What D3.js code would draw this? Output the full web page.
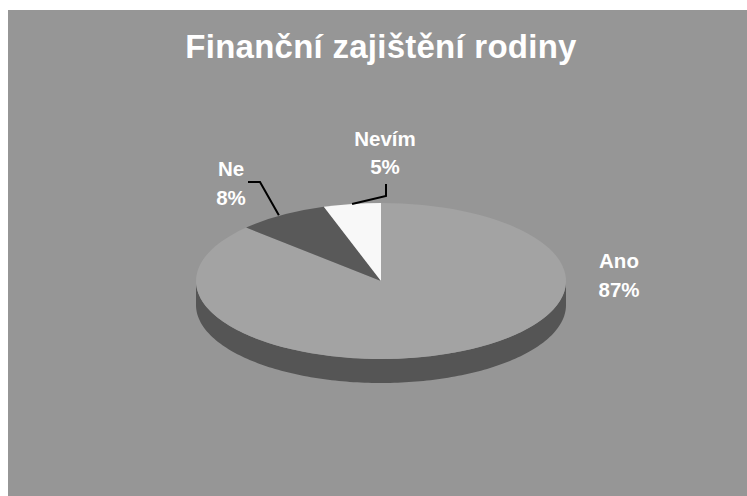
<!DOCTYPE html>
<html lang="cs">
<head>
<meta charset="UTF-8">
<title>Finanční zajištění rodiny</title>
<script src="https://d3js.org/d3.v7.min.js"></script>
<style>
    html, body { margin: 0; padding: 0; background: #fff; }
    svg { display: block; }
    text { font-family: "Liberation Sans", Arial, sans-serif; font-weight: bold; fill: #fff; text-anchor: middle; }
</style>
</head>
<body>
<script>
    var title = "Finanční zajištění rodiny";
    var categories = ["Ano", "Ne", "Nevím"];
    var shares = [87, 8, 5];
    var sliceColors = ["#a3a3a3", "#595959", "#f8f8f8"];

    var w = 747, h = 496;
    var cx = 381, cy = 281, rx = 185, ry = 78, depth = 24;

    var svg = d3.select("body").append("svg")
        .attr("width", w)
        .attr("height", h);

    svg.append("rect")
        .attr("x", 8).attr("y", 10)
        .attr("width", w - 8).attr("height", h - 10)
        .attr("fill", "#969696");

    svg.append("text")
        .attr("x", 381).attr("y", 58)
        .attr("font-size", 33)
        .attr("letter-spacing", 0.25)
        .text(title);

    // slices go clockwise from 12 o'clock
    var pie = d3.pie().sort(null);
    var arcs = pie(shares);

    // point on the tilted ellipse for an angle measured from the top
    function ex(a) { return cx + rx * Math.sin(a); }
    function ey(a) { return cy - ry * Math.cos(a); }

    // visible side wall, lower half of the ellipse
    var side = d3.area()
        .x(ex)
        .y0(ey)
        .y1(a => ey(a) + depth);

    svg.append("path")
        .attr("d", side(d3.range(Math.PI / 2, 3 * Math.PI / 2 + 0.01, 0.02)))
        .attr("fill", "#555555");

    var arc = d3.arc().innerRadius(0).outerRadius(rx);

    svg.append("g")
        .attr("transform", "translate(" + cx + "," + cy + ") scale(1," + (ry / rx) + ")")
        .selectAll("path")
        .data(arcs)
        .join("path")
        .attr("d", arc)
        .attr("fill", (d, i) => sliceColors[i]);

    // leader lines start at the middle of their slice's rim
    var line = d3.line();
    function rimPoint(d) {
        var mid = (d.startAngle + d.endAngle) / 2;
        return [ex(mid), ey(mid)];
    }

    var rimNe = rimPoint(arcs[1]);
    var rimNevim = rimPoint(arcs[2]);

    svg.append("path")
        .attr("d", line([[rimNe[0] - 3, rimNe[1]], [260, 182], [248, 182]]))
        .attr("fill", "none").attr("stroke", "#000").attr("stroke-width", 2);

    svg.append("path")
        .attr("d", line([rimNevim, [386, 196], [386, 184]]))
        .attr("fill", "none").attr("stroke", "#000").attr("stroke-width", 2);

    // data labels
    var labelPos = [
        { x: 619, y1: 268, y2: 297 },
        { x: 231, y1: 176, y2: 205 },
        { x: 385, y1: 146, y2: 174 }
    ];

    categories.forEach((name, i) => {
        svg.append("text")
            .attr("x", labelPos[i].x).attr("y", labelPos[i].y1)
            .attr("font-size", 20.5)
            .text(name);
        svg.append("text")
            .attr("x", labelPos[i].x).attr("y", labelPos[i].y2)
            .attr("font-size", 20.5)
            .text(shares[i] + "%");
    });
</script>
</body>
</html>
